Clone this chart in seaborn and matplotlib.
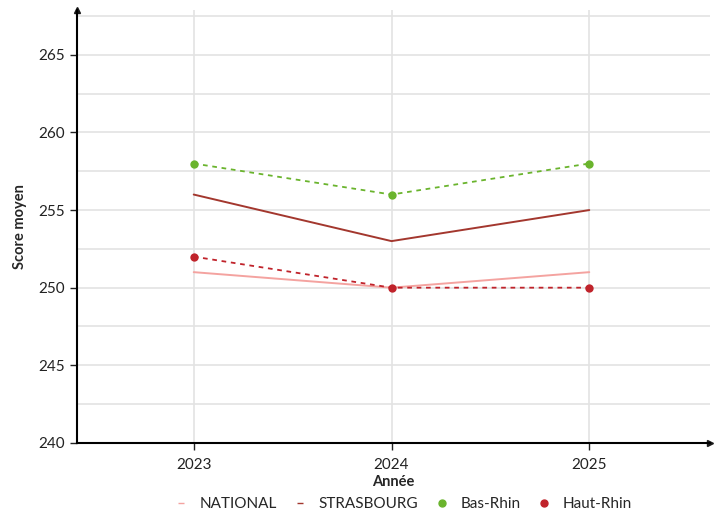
import numpy as np
import pandas as pd
import matplotlib
matplotlib.use("Agg")
import matplotlib.pyplot as plt
import seaborn as sns
from matplotlib.lines import Line2D

# Données
annees = [2023, 2024, 2025]
national = [251, 250, 251]
strasbourg = [256, 253, 255]
bas_rhin = [258, 256, 258]
haut_rhin = [252, 250, 250]

series = ["NATIONAL", "STRASBOURG", "Bas-Rhin", "Haut-Rhin"]
couleurs = {"NATIONAL": "#f4a3a0", "STRASBOURG": "#a3372e",
            "Bas-Rhin": "#6ab42d", "Haut-Rhin": "#c0232b"}

df = pd.DataFrame({
    "Année": annees * 4,
    "Score": national + strasbourg + bas_rhin + haut_rhin,
    "Serie": sum([[s] * 3 for s in series], []),
})

sns.set_theme(style="white")
plt.rcParams["font.family"] = ["Lato", "DejaVu Sans"]

fig = plt.figure(figsize=(7.2, 5.18), dpi=100)
ax = fig.add_axes([0.107, 0.145, 0.879, 0.836])

# grille
for y in np.arange(240, 268, 2.5):
    ax.axhline(y, color="#e3e3e3", lw=1.2, zorder=0)
for x in annees:
    ax.axvline(x, color="#e3e3e3", lw=1.2, zorder=0)

styles = {
    "NATIONAL": dict(linestyle="-", marker=None, lw=1.4),
    "STRASBOURG": dict(linestyle="-", marker=None, lw=1.4),
    "Bas-Rhin": dict(linestyle=(0, (2.6, 2.6)), marker="o", lw=1.3),
    "Haut-Rhin": dict(linestyle=(0, (2.6, 2.6)), marker="o", lw=1.3),
}
for s in series:
    sub = df[df["Serie"] == s]
    st = styles[s]
    sns.lineplot(data=sub, x="Année", y="Score", ax=ax, color=couleurs[s],
                 linestyle=st["linestyle"], marker=st["marker"], lw=st["lw"],
                 markersize=6, markeredgewidth=0, legend=False)

ax.set_xlim(2022.41, 2025.61)
ax.set_ylim(240, 267.9)
ax.set_xticks(annees)
ax.set_xticklabels([str(a) for a in annees])
ax.set_yticks([240, 245, 250, 255, 260, 265])
ax.tick_params(axis="both", labelsize=11, colors="#222222", length=5, width=1,
               bottom=True, left=True)
ax.tick_params(axis="x", pad=6)
ax.set_xlabel("Année", fontsize=10.5, fontweight="bold", labelpad=2)
ax.set_ylabel("Score moyen", fontsize=10.5, fontweight="bold", labelpad=8)

for sp in ["top", "right"]:
    ax.spines[sp].set_visible(False)
for sp in ["left", "bottom"]:
    ax.spines[sp].set_color("black")
    ax.spines[sp].set_linewidth(1.5)
ax.plot(1, 0, ">k", transform=ax.transAxes, clip_on=False, markersize=5)
ax.plot(0, 1, "^k", transform=ax.transAxes, clip_on=False, markersize=5)

handles = [
    Line2D([], [], color=couleurs["NATIONAL"], marker="_", linestyle="none", markersize=4),
    Line2D([], [], color=couleurs["STRASBOURG"], marker="_", linestyle="none", markersize=4),
    Line2D([], [], color=couleurs["Bas-Rhin"], marker="o", linestyle="none", markersize=5),
    Line2D([], [], color=couleurs["Haut-Rhin"], marker="o", linestyle="none", markersize=5),
]
fig.legend(handles, series, loc="center", bbox_to_anchor=(0.558, 0.027), ncol=4,
           frameon=False, fontsize=11, handletextpad=0.6, columnspacing=0.95,
           handlelength=1.2)

fig.savefig("out.png", dpi=100)
